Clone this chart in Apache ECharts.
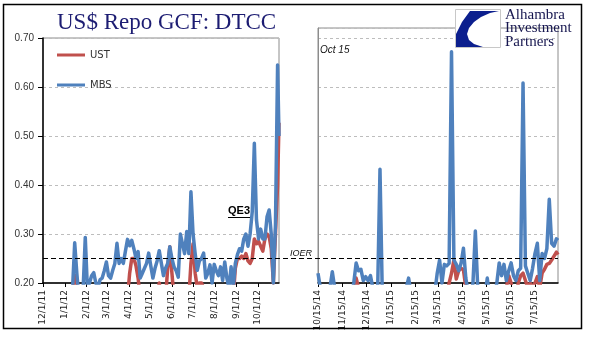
<!DOCTYPE html>
<html><head><meta charset="utf-8">
<script src="https://cdn.jsdelivr.net/npm/echarts@6/dist/echarts.min.js"></script>
<style>html,body{margin:0;padding:0;background:#fff}#c{width:607px;height:341px}</style>
</head><body><div id="c"></div>
<script>
// ---- data ----
const leftStart = '2011-12-01', leftEnd = '2012-10-31';
const rightStart = '2014-10-15', rightEnd = '2015-08-13';
const stepDays = 3;
const leftTickLabels = ['12/1/11','1/1/12','2/1/12','3/1/12','4/1/12','5/1/12','6/1/12','7/1/12','8/1/12','9/1/12','10/1/12'];
const rightTickLabels = ['10/15/14','11/15/14','12/15/14','1/15/15','2/15/15','3/15/15','4/15/15','5/15/15','6/15/15','7/15/15'];
const seriesNames = ['UST','MBS'];
const ioer = 0.25;

const leftMBS = [
0.17,0.17,0.17,0.17,0.17,0.17,0.17,0.17,0.17,0.17,0.17,0.17,0.17,0.17,
0.19,0.282,0.22,0.17,0.17,0.19,0.293,0.19,0.2,0.215,
0.221,0.2,0.19,0.207,0.21,0.225,0.243,0.215,0.21,0.226,
0.24,0.281,0.24,0.25,0.24,0.265,0.289,0.276,0.287,0.27,
0.25,0.264,0.21,0.22,0.23,0.24,0.261,0.235,0.21,0.23,
0.245,0.266,0.24,0.215,0.23,0.24,0.274,0.25,0.233,0.225,
0.212,0.30,0.28,0.26,0.305,0.26,0.386,0.30,0.26,0.226,
0.245,0.25,0.261,0.21,0.22,0.237,0.2,0.238,0.225,0.215,
0.233,0.205,0.243,0.21,0.19,0.233,0.19,0.24,0.258,0.27,
0.265,0.29,0.30,0.275,0.30,0.345,0.485,0.329,0.29,0.31,
0.29,0.29,0.335,0.349,0.30,0.20,0.32,0.645,0.50];
const leftUST = [
0.17,0.17,0.17,0.17,0.17,0.17,0.17,0.17,0.17,0.17,0.17,0.17,0.17,0.17,
0.17,0.216,0.18,0.17,0.17,0.17,0.17,0.17,0.17,0.17,
0.17,0.17,0.17,0.17,0.17,0.17,0.17,0.17,0.17,0.17,
0.17,0.17,0.17,0.17,0.17,0.17,0.17,0.22,0.25,0.25,
0.235,0.21,0.17,0.17,0.17,0.17,0.17,0.17,0.17,0.17,
0.17,0.2,0.17,0.17,0.17,0.23,0.274,0.22,0.17,0.17,
0.17,0.17,0.17,0.17,0.17,0.17,0.24,0.28,0.22,0.19,
0.2,0.2,0.19,0.17,0.17,0.17,0.17,0.17,0.17,0.17,
0.17,0.17,0.17,0.17,0.17,0.17,0.17,0.23,0.25,0.25,
0.255,0.25,0.26,0.245,0.24,0.25,0.29,0.28,0.285,0.275,
0.265,0.29,0.30,0.295,0.27,0.20,0.30,0.40,0.527];
const rightMBS = [
0.22,0.19,0.17,0.17,0.17,0.19,0.223,0.19,0.17,0.17,
0.17,0.17,0.17,0.17,0.17,0.2,0.241,0.225,0.228,0.205,
0.213,0.205,0.215,0.19,0.17,0.18,0.432,0.17,0.17,0.17,
0.17,0.17,0.17,0.17,0.17,0.17,0.17,0.19,0.21,0.18,
0.17,0.17,0.17,0.17,0.17,0.17,0.17,0.17,0.17,0.18,
0.22,0.247,0.2,0.238,0.235,0.24,0.672,0.247,0.238,0.225,
0.24,0.271,0.21,0.18,0.17,0.2,0.306,0.19,0.17,0.17,
0.17,0.21,0.17,0.17,0.17,0.2,0.241,0.215,0.238,0.205,
0.225,0.241,0.215,0.205,0.225,0.23,0.608,0.235,0.22,0.205,
0.23,0.26,0.281,0.205,0.26,0.25,0.27,0.371,0.281,0.275,
0.29,0.287];
const rightUST = [
0.17,0.17,0.17,0.17,0.17,0.17,0.17,0.17,0.17,0.17,
0.17,0.17,0.17,0.17,0.17,0.17,0.21,0.19,0.17,0.17,
0.17,0.17,0.17,0.17,0.17,0.17,0.17,0.17,0.17,0.17,
0.17,0.17,0.17,0.17,0.17,0.17,0.17,0.17,0.17,0.17,
0.17,0.17,0.17,0.17,0.17,0.17,0.17,0.17,0.17,0.17,
0.17,0.17,0.17,0.17,0.17,0.2,0.22,0.247,0.208,0.225,
0.23,0.227,0.19,0.17,0.17,0.17,0.17,0.17,0.17,0.17,
0.17,0.17,0.17,0.17,0.17,0.17,0.17,0.17,0.17,0.19,
0.215,0.2,0.17,0.17,0.2,0.215,0.22,0.205,0.19,0.2,
0.19,0.2,0.213,0.19,0.22,0.228,0.238,0.24,0.247,0.255,
0.263,0.258];

// ---- helpers ----
const DAY = 864e5;
function parseLabel(s){ const [m,d,y]=s.split('/').map(Number); return Date.UTC(2000+y,m-1,d); }
function fmt(v){ const d=new Date(v); return (d.getUTCMonth()+1)+'/'+d.getUTCDate()+'/'+String(d.getUTCFullYear()%100).padStart(2,'0'); }
function build(start,end,vals){ const s=Date.parse(start), e=Date.parse(end); return vals.map((v,i)=>[Math.min(s+i*stepDays*DAY,e),v]); }

const RED='#C0504D', BLUE='#4F81BD';
const lblFont = {fontFamily:'DejaVu Sans', fontSize:9, color:'#222'};

function xAxisFor(gi,start,end,labels){
  const vals = labels.map(parseLabel);
  return {type:'value', gridIndex:gi, min:Date.parse(start), max:Date.parse(end),
    axisLine:{show:true,lineStyle:{color:'#000',width:1.5}},
    axisTick:{show:true,customValues:vals,length:4,lineStyle:{color:'#000'}},
    axisLabel:Object.assign({customValues:vals,rotate:90,margin:7,formatter:fmt},lblFont),
    splitLine:{show:false}};
}
const gridLine = {show:true,lineStyle:{color:'#bdbdbd',type:[3,3],width:1}};

const line = (name,xi,data,color,z)=>({type:'line',name,xAxisIndex:xi,yAxisIndex:xi,data,
  showSymbol:false,symbol:'none',clip:true,z,
  lineStyle:{color,width:3.5,join:'round'},itemStyle:{color}});

const option = {
  animation:false,
  backgroundColor:'#fff',
  title:{text:'US$ Repo GCF: DTCC',left:52,top:6,
    textStyle:{fontFamily:'Liberation Serif',fontSize:23,fontWeight:'normal',color:'#1c1c72'}},
  legend:{data:seriesNames,orient:'vertical',left:52,top:45,itemWidth:28,itemHeight:3,itemGap:20,icon:'rect',
    textStyle:{fontFamily:'DejaVu Sans',fontSize:10,color:'#333'}},
  grid:[
    {left:43,top:38,width:236,height:245,show:true,borderColor:'#8c8c8c',borderWidth:1},
    {left:318,top:28,width:240,height:255,show:true,borderColor:'#8c8c8c',borderWidth:1},
    {left:43,top:38,width:515,height:245}
  ],
  xAxis:[
    xAxisFor(0,leftStart,leftEnd,leftTickLabels),
    xAxisFor(1,rightStart,rightEnd,rightTickLabels),
    {type:'value',gridIndex:2,min:0,max:1,show:false}
  ],
  yAxis:[
    {type:'value',gridIndex:0,min:0.2,max:0.7,interval:0.1,
      axisLine:{show:true,lineStyle:{color:'#000',width:1.5}},
      axisTick:{show:true,length:5,lineStyle:{color:'#000'}},
      axisLabel:{margin:9,formatter:v=>v.toFixed(2),fontFamily:'Liberation Sans',fontSize:10,color:'#333'},
      splitLine:gridLine},
    {type:'value',gridIndex:1,min:0.2,max:0.2+255/490,interval:0.1,
      axisLine:{show:true,lineStyle:{color:'#8c8c8c',width:1}},
      axisTick:{show:false},axisLabel:{show:false},splitLine:gridLine},
    {type:'value',gridIndex:2,min:0.2,max:0.7,show:false}
  ],
  series:[
    line('UST',0,build(leftStart,leftEnd,leftUST),RED,2),
    line('MBS',0,build(leftStart,leftEnd,leftMBS),BLUE,3),
    line('UST',1,build(rightStart,rightEnd,rightUST),RED,2),
    line('MBS',1,build(rightStart,rightEnd,rightMBS),BLUE,3),
    {type:'line',name:'IOER',xAxisIndex:2,yAxisIndex:2,data:[[0,0.1],[1,0.1]],showSymbol:false,
      lineStyle:{opacity:0},z:5,silent:true,
      markLine:{silent:true,symbol:['none','none'],label:{show:false},
        lineStyle:{color:'#000',type:[5,3],width:1},data:[{yAxis:ioer}]}}
  ],
  graphic:[
    {type:'rect',shape:{x:3.5,y:4.5,width:578,height:324},style:{fill:null,stroke:'#000',lineWidth:1.5},z:100},
    {type:'text',x:228,y:211,style:{text:'QE3',fontFamily:'Liberation Sans',fontWeight:'bold',fontSize:11,fill:'#000',verticalAlign:'middle'},z:50},
    {type:'line',shape:{x1:228,y1:217.5,x2:250,y2:217.5},style:{stroke:'#000',lineWidth:1},z:50},
    {type:'text',x:290,y:253,style:{text:'IOER',fontFamily:'Liberation Sans',fontStyle:'italic',fontSize:9,fill:'#111',verticalAlign:'middle'},z:50},
    {type:'text',x:320,y:50,style:{text:'Oct 15',fontFamily:'Liberation Sans',fontStyle:'italic',fontSize:10,fill:'#111',verticalAlign:'middle'},z:50},
    {type:'rect',shape:{x:455.5,y:9.5,width:45,height:38},style:{fill:'#fff',stroke:'#c8c8c8',lineWidth:1},z:60},
    {type:'polygon',shape:{points:[[470,11],[499,11],[490,13],[481,17],[474,22],[469,28],[467,34],[469,40],[474,44],[483,47],[456,47],[456,34],[462,22]]},
      style:{fill:'#0c1f8e'},z:61},
    {type:'text',x:505,y:15.5,style:{text:'Alhambra',fontFamily:'Liberation Serif',fontSize:15,fill:'#16164f',verticalAlign:'middle'},z:60},
    {type:'text',x:505,y:28.5,style:{text:'Investment',fontFamily:'Liberation Serif',fontSize:15,fill:'#16164f',verticalAlign:'middle'},z:60},
    {type:'text',x:505,y:42,style:{text:'Partners',fontFamily:'Liberation Serif',fontSize:15,fill:'#16164f',verticalAlign:'middle'},z:60}
  ]
};
const chart = echarts.init(document.getElementById('c'));
chart.setOption(option);
</script></body></html>
